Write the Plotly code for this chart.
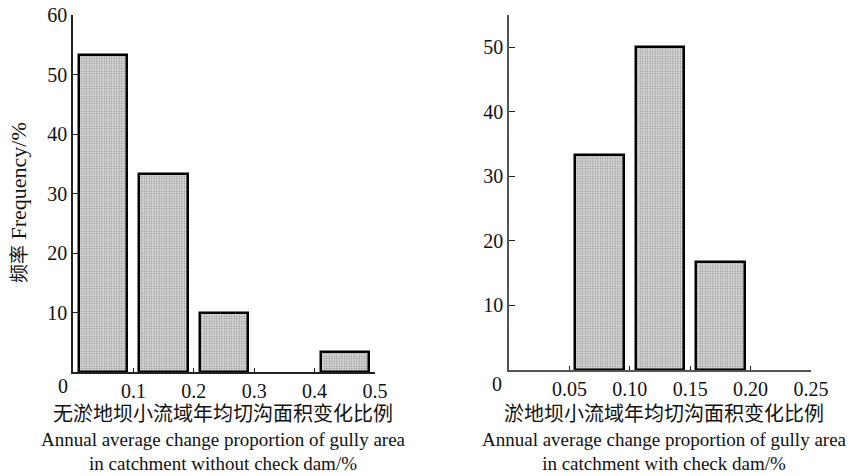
import plotly.graph_objects as go

# Left panel: catchments without check dam
left_x = [0.05, 0.15, 0.25, 0.45]
left_freq = [53.3, 33.3, 10.0, 3.3]
left_width = [0.08, 0.08, 0.08, 0.08]
left_ticks = [0.1, 0.2, 0.3, 0.4, 0.5]
left_ticktext = ["0.1", "0.2", "0.3", "0.4", "0.5"]
left_yticks = [10, 20, 30, 40, 50, 60]

# Right panel: catchments with check dam
right_x = [0.075, 0.125, 0.175]
right_freq = [33.3, 50.0, 16.7]
right_width = [0.04, 0.04, 0.04]
right_ticks = [0.05, 0.10, 0.15, 0.20, 0.25]
right_ticktext = ["0.05", "0.10", "0.15", "0.20", "0.25"]
right_yticks = [10, 20, 30, 40, 50]

left_title = ("<span style='font-size:20px'>无淤地坝小流域年均切沟面积变化比例</span><br>"
              "Annual average change proportion of gully area<br>"
              "in catchment without check dam/%")
right_title = ("<span style='font-size:20px'>淤地坝小流域年均切沟面积变化比例</span><br>"
               "Annual average change proportion of gully area<br>"
               "in catchment with check dam/%")
y_title = "<span style='font-size:19px'>频率</span> Frequency/%"

FONT = "Liberation Serif, Times New Roman, Noto Sans CJK SC, serif"
W, H = 853, 476

pattern = dict(shape=".", fgcolor="#3c3c3c", bgcolor="#dadada", size=2.5, solidity=0.3)

fig = go.Figure()
fig.add_trace(go.Bar(x=left_x, y=left_freq, width=left_width, xaxis="x", yaxis="y",
                     marker=dict(color="#d0d0d0", pattern=pattern,
                                 line=dict(color="black", width=2.5)),
                     showlegend=False, hoverinfo="skip"))
fig.add_trace(go.Bar(x=right_x, y=right_freq, width=right_width, xaxis="x2", yaxis="y2",
                     marker=dict(color="#d0d0d0", pattern=pattern,
                                 line=dict(color="black", width=2.5)),
                     showlegend=False, hoverinfo="skip"))

ydom = [1 - 372 / H, 1 - 15 / H]
ydom2 = [1 - 370 / H, 1 - 15 / H]
ax_common = dict(showgrid=False, zeroline=False, showline=True, linewidth=1.5,
                 ticks="inside", tickcolor="#222", tickwidth=1.2, automargin=False,
                 tickfont=dict(family=FONT, size=20, color="#111"))

fig.update_layout(
    width=W, height=H, margin=dict(l=0, r=0, t=0, b=0, pad=0, autoexpand=False),
    paper_bgcolor="white", plot_bgcolor="white", bargap=0,
    font=dict(family=FONT, size=19, color="#111"),
    xaxis=dict(domain=[73 / W, 375 / W], range=[0, 0.5], tickvals=left_ticks,
               ticktext=left_ticktext, ticklen=4, linecolor="#222", anchor="y", **ax_common),
    yaxis=dict(domain=ydom, range=[0, 60], tickvals=left_yticks, ticklen=6,
               linecolor="#222", anchor="x", **ax_common),
    xaxis2=dict(domain=[509 / W, 811 / W], range=[0, 0.25], tickvals=right_ticks,
                ticktext=right_ticktext, ticklen=4, linecolor="#555", anchor="y2", **ax_common),
    yaxis2=dict(domain=ydom2, range=[0, 55], tickvals=right_yticks, ticklen=6,
                linecolor="#555", anchor="x2", **ax_common),
)

annotations = [
    dict(text="0", xref="x", yref="y", x=0, y=0, xanchor="center", yanchor="top",
         xshift=-10, yshift=-1, showarrow=False, font=dict(family=FONT, size=20, color="#111")),
    dict(text="0", xref="x2", yref="y2", x=0, y=0, xanchor="center", yanchor="top",
         xshift=-12, yshift=-1, showarrow=False, font=dict(family=FONT, size=20, color="#111")),
    dict(text=left_title, xref="paper", yref="paper", x=223 / W, y=1 - 401 / H,
         xanchor="center", yanchor="top", showarrow=False, align="center",
         font=dict(family=FONT, size=19, color="#111")),
    dict(text=right_title, xref="paper", yref="paper", x=664 / W, y=1 - 401 / H,
         xanchor="center", yanchor="top", showarrow=False, align="center",
         font=dict(family=FONT, size=19, color="#111")),
    dict(text=y_title, xref="paper", yref="paper", x=18 / W, y=1 - 203 / H,
         xanchor="center", yanchor="middle", textangle=-90, showarrow=False,
         font=dict(family=FONT, size=22, color="#111")),
]
fig.update_layout(annotations=annotations)

fig.write_html("out.html", config={"displayModeBar": False},
               post_script="document.body.style.margin='0';")
